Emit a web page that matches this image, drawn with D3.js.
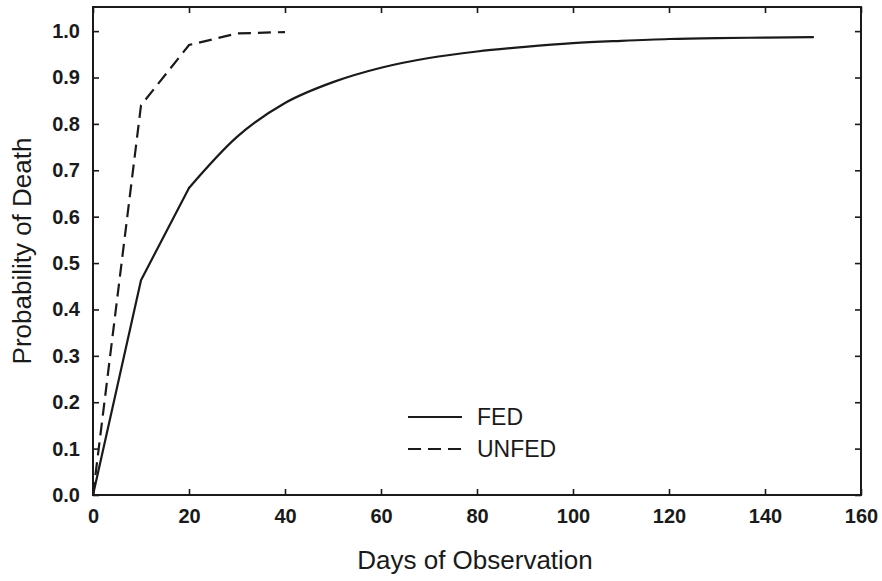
<!DOCTYPE html>
<html><head><meta charset="utf-8">
<script src="https://cdn.jsdelivr.net/npm/d3@7"></script>
<style>body{margin:0;background:#fff}svg{display:block}text{font-family:"Liberation Sans",Arial,sans-serif;fill:#1a1a1a}</style>
</head><body>
<svg id="c" width="882" height="581"></svg>
<script>
const fedDays = [0,10,20,30,40,50,60,70,80,90,100,110,120,130,140,150];
const fedProb = [0,0.463,0.662,0.772,0.845,0.890,0.921,0.942,0.956,0.966,0.974,0.979,0.983,0.985,0.986,0.987];
const unfedDays = [0,10,20,30,40];
const unfedProb = [0,0.84,0.97,0.995,0.998];
const xTicks = [0,20,40,60,80,100,120,140,160];
const yTicks = [0,0.1,0.2,0.3,0.4,0.5,0.6,0.7,0.8,0.9,1.0];
const seriesNames = ["FED","UNFED"];

const svg = d3.select("#c");
const L=93,R=861,T=7,B=495;
const x = d3.scaleLinear().domain([0,160]).range([L,R]);
const y = d3.scaleLinear().domain([0,1.052]).range([B,T]);
const ink="#1a1a1a";

// frame
svg.append("rect").attr("x",L).attr("y",T).attr("width",R-L).attr("height",B-T)
  .attr("fill","none").attr("stroke",ink).attr("stroke-width",2);

// axes
const fmtY = d3.format(".1f");
const gx = svg.append("g").attr("transform",`translate(0,${B})`)
  .call(d3.axisBottom(x).tickValues(xTicks).tickSize(-6).tickPadding(14).tickFormat(d3.format("d")));
const gy = svg.append("g").attr("transform",`translate(${L},0)`)
  .call(d3.axisLeft(y).tickValues(yTicks).tickSize(-6).tickPadding(13).tickFormat(fmtY));
const gt = svg.append("g").attr("transform",`translate(0,${T})`)
  .call(d3.axisTop(x).tickValues(xTicks).tickSize(-6).tickFormat(""));
const gr = svg.append("g").attr("transform",`translate(${R},0)`)
  .call(d3.axisRight(y).tickValues(yTicks).tickSize(-6).tickFormat(""));
[gx,gy,gt,gr].forEach(g=>{
  g.select(".domain").remove();
  g.selectAll(".tick line").attr("stroke",ink).attr("stroke-width",1.6);
  g.selectAll("text").attr("font-size",20).attr("font-weight","bold").attr("fill",ink)
   .style("font-family",'"Liberation Sans",Arial,sans-serif');
});

// lines
const fedPts = fedDays.map((d,i)=>[d,fedProb[i]]);
const lineLin = d3.line().x(d=>x(d[0])).y(d=>y(d[1]));
const lineSmooth = d3.line().x(d=>x(d[0])).y(d=>y(d[1])).curve(d3.curveMonotoneX);
svg.append("path").datum(fedPts.slice(0,3))
  .attr("d",lineLin).attr("fill","none").attr("stroke",ink).attr("stroke-width",2.2)
  .attr("stroke-linejoin","round").attr("stroke-linecap","round");
svg.append("path").datum(fedPts.slice(2))
  .attr("d",lineSmooth).attr("fill","none").attr("stroke",ink).attr("stroke-width",2.2)
  .attr("stroke-linecap","round");
svg.append("path").datum(unfedDays.map((d,i)=>[d,unfedProb[i]]))
  .attr("d",lineLin).attr("fill","none").attr("stroke",ink).attr("stroke-width",2.2)
  .attr("stroke-dasharray","13,7");

// legend
const lg = svg.append("g");
const ly=[417,449];
seriesNames.forEach((n,i)=>{
  lg.append("line").attr("x1",408).attr("x2",462).attr("y1",ly[i]).attr("y2",ly[i])
    .attr("stroke",ink).attr("stroke-width",2.2).attr("stroke-dasharray",i?"13,7":null);
  lg.append("text").attr("x",477).attr("y",ly[i]+8).attr("font-size",23).text(n);
});

// titles
svg.append("text").attr("x",475).attr("y",569).attr("text-anchor","middle")
  .attr("font-size",26).text("Days of Observation");
svg.append("text").attr("transform","translate(31,251) rotate(-90)").attr("text-anchor","middle")
  .attr("font-size",26).text("Probability of Death");
</script>
</body></html>
